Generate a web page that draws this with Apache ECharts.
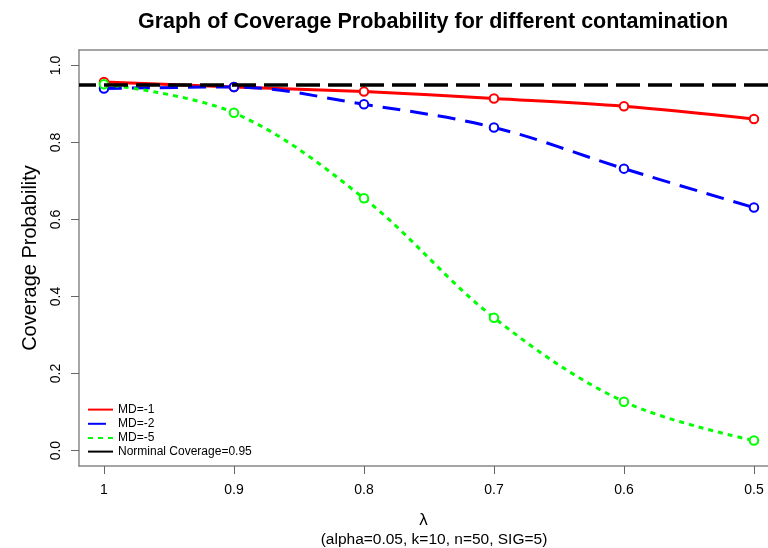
<!DOCTYPE html>
<html>
<head>
<meta charset="utf-8">
<script src="https://cdn.jsdelivr.net/npm/echarts@6/dist/echarts.min.js"></script>
<style>
  html, body { margin: 0; padding: 0; background: #fff; }
  #Chart { width: 768px; height: 548px; }
</style>
</head>
<body>
<div id="Chart"></div>
<script>
// lambda values and coverage probabilities
var lambda = [1, 0.9, 0.8, 0.7, 0.6, 0.5];
var md1 = [0.957, 0.944, 0.932, 0.914, 0.894, 0.861];
var md2 = [0.940, 0.944, 0.899, 0.839, 0.732, 0.631];
var md5 = [0.951, 0.877, 0.655, 0.345, 0.127, 0.026];
var nominal = 0.95;
var yTicks = [0, 0.2, 0.4, 0.6, 0.8, 1.0];

var font = "'Liberation Sans', Arial, sans-serif";
var boxLine = { show: true, onZero: false, lineStyle: { color: '#888', width: 1.5 } };

function pairs(ys) {
    return lambda.map(function (x, i) { return [x, ys[i]]; });
}

function lineSeries(name, ys, color, type) {
    return {
        name: name,
        type: 'line',
        data: pairs(ys),
        smooth: 0.35,
        symbol: 'emptyCircle',
        symbolSize: 8.5,
        lineStyle: { color: color, width: 3, type: type },
        itemStyle: { color: color, borderColor: color, borderWidth: 2.7 },
        z: 3
    };
}

var myChart = echarts.init(document.getElementById("Chart"));
var option = {
    backgroundColor: '#fff',
    animation: false,
    textStyle: { fontFamily: font },
    title: [
        {
            text: 'Graph of Coverage Probability for different contamination',
            left: 428,
            top: 6,
            textAlign: 'center',
            textStyle: { fontFamily: font, fontSize: 21.5, fontWeight: 'bold', color: '#000' }
        },
        {
            text: '(alpha=0.05, k=10, n=50, SIG=5)',
            left: 429,
            top: 527,
            textAlign: 'center',
            textStyle: { fontFamily: font, fontSize: 15.5, fontWeight: 'normal', color: '#000' }
        }
    ],
    grid: {
        left: 79,
        top: 50,
        right: 0,
        height: 416,
        show: false
    },
    legend: {
        orient: 'vertical',
        left: 82,
        top: 398,
        itemGap: 1,
        itemWidth: 25,
        itemHeight: 14,
        textStyle: { fontFamily: font, fontSize: 12, color: '#000' },
        itemStyle: { opacity: 0 },
        data: ['MD=-1', 'MD=-2', 'MD=-5', 'Norminal Coverage=0.95']
    },
    xAxis: [
        {
            type: 'value',
            inverse: true,
            min: 0.4892,
            max: 1.0192,
            name: 'λ',
            nameLocation: 'middle',
            nameGap: 46,
            nameTextStyle: { fontFamily: font, fontSize: 17, color: '#000' },
            axisLine: boxLine,
            axisTick: {
                show: true,
                length: 8,
                customValues: lambda,
                lineStyle: { color: '#666', width: 1 }
            },
            axisLabel: {
                customValues: lambda,
                margin: 17,
                fontSize: 14,
                color: '#000',
                formatter: function (v) { return v === 1 ? '1' : v.toFixed(1); }
            },
            splitLine: { show: false }
        },
        {
            // top edge of the plot box
            type: 'value',
            position: 'top',
            inverse: true,
            min: 0.4892,
            max: 1.0192,
            axisLine: boxLine,
            axisTick: { show: false },
            axisLabel: { show: false },
            splitLine: { show: false }
        }
    ],
    yAxis: {
        type: 'value',
        min: -0.04,
        max: 1.04,
        name: 'Coverage Probability',
        nameLocation: 'middle',
        nameGap: 39,
        nameTextStyle: { fontFamily: font, fontSize: 20, color: '#000' },
        axisLine: boxLine,
        axisTick: {
            show: true,
            length: 8,
            customValues: yTicks,
            lineStyle: { color: '#666', width: 1 }
        },
        axisLabel: {
            customValues: yTicks,
            rotate: 90,
            margin: 16,
            fontSize: 14,
            color: '#000',
            formatter: function (v) { return v.toFixed(1); }
        },
        splitLine: { show: false }
    },
    series: [
        lineSeries('MD=-1', md1, '#ff0000', 'solid'),
        lineSeries('MD=-2', md2, '#0000ff', [18, 10]),
        lineSeries('MD=-5', md5, '#00ff00', [5, 5]),
        {
            name: 'Norminal Coverage=0.95',
            type: 'line',
            data: [],
            symbol: 'circle',
            showSymbol: false,
            lineStyle: { color: '#000', width: 3 },
            itemStyle: { color: '#000' },
            markLine: {
                silent: true,
                symbol: 'none',
                label: { show: false },
                lineStyle: { color: '#000', width: 3.5, type: [24, 8] },
                data: [{ yAxis: nominal }]
            },
            z: 4
        }
    ]
};
myChart.setOption(option);
window.addEventListener("resize", function () {
    myChart.resize();
});
</script>
</body>
</html>
